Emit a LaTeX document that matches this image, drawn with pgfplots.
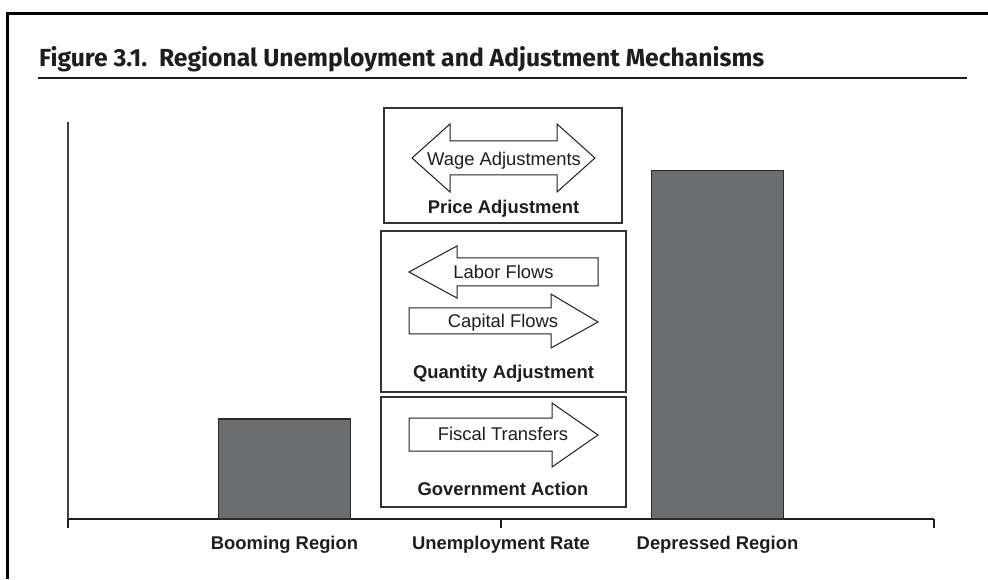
\documentclass[border=0pt]{standalone}
\usepackage{pgfplots}
\pgfplotsset{compat=1.18}
\usepackage{fontspec}
\setmainfont{Liberation Sans}
\newfontfamily\titlefont{Fira Sans}
\definecolor{barfill}{HTML}{6C6D6F}
\definecolor{bardraw}{HTML}{2B2B2B}
\definecolor{linecol}{HTML}{333333}
\definecolor{txt}{HTML}{1E1E1E}
\newcommand{\lab}{\fontsize{18.4}{20}\selectfont}
\begin{document}
\begin{tikzpicture}[x=1pt,y=1pt]
\useasboundingbox (0,0) rectangle (988,579);
% outer frame
\draw[line width=2.5pt, black] (7.5,0) -- (7.5,565.5) -- (988,565.5);
% title
\node[anchor=base west, inner sep=0, text=txt] at (39,512) {\titlefont\bfseries\fontsize{24.7}{28}\selectfont Figure 3.1.\ \ Regional Unemployment and Adjustment Mechanisms};
\draw[line width=1.3pt, txt] (38,501) -- (967,501);
\begin{axis}[
  at={(68pt,60pt)}, anchor=south west,
  scale only axis, width=866pt, height=397pt,
  xmin=0, xmax=2, ymin=0, ymax=100,
  axis x line=bottom, axis y line=left,
  x axis line style={-, line width=1.2pt, draw=txt},
  y axis line style={-, line width=1.5pt, draw=black!75},
  ytick=\empty,
  xtick={0,1,2}, xticklabels={,,},
  xtick align=outside,
  major tick length=9pt,
  x tick style={line width=1.2pt, draw=txt},
  extra x ticks={0.5,1,1.5},
  extra x tick labels={Booming Region,Unemployment Rate,Depressed Region},
  extra x tick style={major tick length=0pt,
    tick label style={anchor=base, yshift=-30.6pt, font=\lab\bfseries, text=txt}},
  clip=false,
]
\addplot[ybar, bar width=0.3045, fill=barfill, draw=bardraw, line width=1.2pt]
  coordinates {(0.5,25.2) (1.5,87.7)};
\end{axis}
% boxes
\draw[line width=1.2pt, linecol] (384,471) rectangle (622,356);
\draw[line width=1.2pt, linecol] (381,348) rectangle (626,187);
\draw[line width=1.2pt, linecol] (381,182) rectangle (626,72);
% arrows
\draw[line width=1pt, txt, fill=white] (412,421) -- (450,455) -- (450,438) -- (557,438) -- (557,455) -- (595,421) -- (557,387) -- (557,404) -- (450,404) -- (450,387) -- cycle;
\draw[line width=1pt, txt, fill=white] (409,307) -- (457,333) -- (457,321) -- (598,321) -- (598,293) -- (457,293) -- (457,281) -- cycle;
\draw[line width=1pt, txt, fill=white] (409,271) -- (551,271) -- (551,285) -- (598,257) -- (551,231) -- (551,245) -- (409,245) -- cycle;
\draw[line width=1pt, txt, fill=white] (409,161) -- (552,161) -- (552,176) -- (598,144) -- (552,112) -- (552,128) -- (409,128) -- cycle;
% texts
\begin{scope}[every node/.style={anchor=base, inner sep=0, text=txt, font=\lab}]
\node at (504,413.4) {Wage Adjustments};
\node at (503.5,300.4) {Labor Flows};
\node at (503,251.4) {Capital Flows};
\node at (503,138.4) {Fiscal Transfers};
\node[font=\lab\bfseries] at (503.5,365.4) {Price Adjustment};
\node[font=\lab\bfseries] at (503.5,200.4) {Quantity Adjustment};
\node[font=\lab\bfseries] at (503,83.4) {Government Action};
\end{scope}
\end{tikzpicture}
\end{document}
